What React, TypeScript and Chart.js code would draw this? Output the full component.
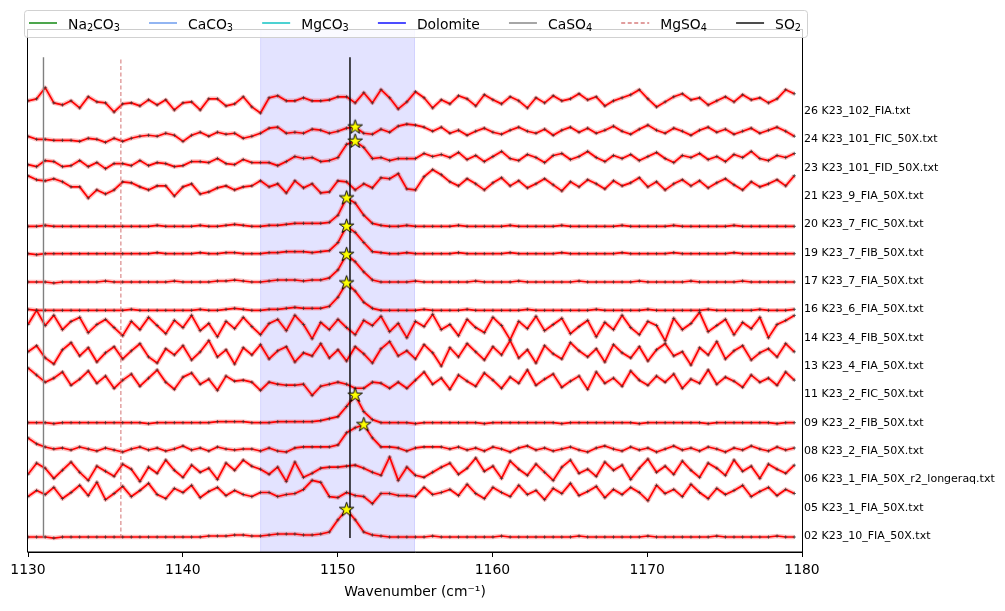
import React, { useEffect, useRef } from 'react';
import { Chart, registerables } from 'chart.js';

Chart.register(...registerables);
Chart.defaults.font.family = '"DejaVu Sans", sans-serif';

// Wavenumber sampling of every spectrum (cm^-1)
const WN_START = 1130;
const WN_STEP = 0.5562;
const POINT_COUNT = 90;
const WAVENUMBERS = Array.from({ length: POINT_COUNT }, (_, i) => +(WN_START + i * WN_STEP).toFixed(3));

// Vertical offset between stacked spectra (intensity units)
const OFFSET_STEP = 28;

// Spectrum names, bottom to top
const SPECTRUM_LABELS = [
  '02 K23_10_FIA_50X.txt',
  '05 K23_1_FIA_50X.txt',
  '06 K23_1_FIA_50X_r2_longeraq.txt',
  '08 K23_2_FIA_50X.txt',
  '09 K23_2_FIB_50X.txt',
  '11 K23_2_FIC_50X.txt',
  '13 K23_4_FIA_50X.txt',
  '14 K23_4_FIB_50X.txt',
  '16 K23_6_FIA_50X.txt',
  '17 K23_7_FIA_50X.txt',
  '19 K23_7_FIB_50X.txt',
  '20 K23_7_FIC_50X.txt',
  '21 K23_9_FIA_50X.txt',
  '23 K23_101_FID_50X.txt',
  '24 K23_101_FIC_50X.txt',
  '26 K23_102_FIA.txt',
];

// Intensities relative to each spectrum's own offset
const s02 = [-1,-1,-1,-2,-1,-1,-1,-1,-1,-1,-1,-1,-1,-1,-1,-1,-1,-1,-1,-1,-1,0,0,0,1,1,0,0,1,2,2,2,1,1,2,4,16,26,16,4,1,0,-1,-1,-1,-1,-1,0,-1,-1,-1,-1,-1,-1,-1,0,-1,-1,-1,-1,-1,-1,-1,-1,0,-1,-1,-1,-1,-1,-1,-1,0,-1,-1,-1,-1,-1,-1,-1,0,-1,-1,-1,-1,-1,-1,0,-1,-1];
const s05 = [11,17,13,20,9,15,22,12,25,8,14,21,11,17,24,13,9,19,15,22,10,16,20,12,17,13,11,15,15,11,13,14,18,27,25,11,10,15,12,11,4,14,14,12,12,11,20,13,15,18,12,23,14,9,20,15,11,22,13,17,8,19,14,24,12,16,21,10,18,13,20,15,7,22,14,18,11,23,15,9,19,13,17,22,11,16,20,12,18,14];
const s06 = [5,16,11,1,9,17,7,-1,13,8,3,15,10,-2,12,6,19,9,2,14,7,11,0,16,9,19,13,10,5,12,-2,17,2,6,11,12,12,13,14,11,7,4,22,-1,12,4,2,7,12,16,5,11,21,8,13,1,18,10,4,15,7,-1,12,19,6,10,3,17,9,14,0,11,20,7,13,5,18,9,2,16,11,4,19,8,13,1,15,10,6,14];
const s08 = [13,7,4,2,3,1,4,2,0,3,1,-1,2,4,1,3,0,2,5,1,3,0,4,2,1,2,2,0,3,0,-1,3,4,4,4,4,6,18,23,26,13,4,4,3,0,3,4,4,4,2,4,1,3,0,4,2,-1,3,5,1,3,0,2,4,1,-1,3,5,2,0,4,1,3,-1,2,5,1,3,0,4,2,-1,3,1,5,2,0,4,1,3];
const s09 = [0,0,0,-1,0,0,0,0,0,0,0,0,0,0,-1,0,0,0,0,0,0,0,1,1,1,1,0,0,0,1,1,1,1,1,2,4,6,16,27,11,3,0,0,0,0,-1,0,0,0,0,0,0,0,-1,0,0,0,0,0,0,0,0,-1,0,0,0,0,0,0,0,0,-1,0,0,0,0,0,0,0,-1,0,0,0,0,0,0,0,-1,0,0];
const s11 = [26,19,12,16,22,9,15,23,11,18,6,14,20,8,16,24,12,5,17,21,10,15,4,18,13,14,12,4,12,10,9,9,10,-1,8,10,12,10,6,6,12,11,6,12,6,14,22,10,16,5,19,13,8,21,14,6,17,11,24,9,15,20,7,13,18,5,22,11,16,8,23,14,9,18,12,20,6,15,11,24,10,17,13,7,19,12,16,9,22,14];
const s13 = [14,20,8,2,16,23,10,18,4,13,19,7,15,22,9,3,17,11,20,6,14,25,9,16,2,18,11,21,7,15,19,4,13,10,22,8,16,5,19,12,3,17,24,10,15,7,21,13,0,18,9,22,14,6,19,11,25,8,16,3,20,12,7,23,15,9,17,4,21,13,8,19,5,16,22,10,14,1,18,11,24,7,15,20,6,13,17,9,22,14];
const s14 = [13,27,12,22,8,16,20,5,13,18,10,2,16,8,20,12,4,17,10,22,7,14,1,16,9,20,11,3,14,18,7,22,13,-1,15,8,18,10,3,17,12,21,6,14,0,16,11,23,8,13,2,18,10,5,20,12,-2,16,9,21,7,13,19,4,11,17,1,15,8,22,10,3,16,12,-3,19,8,14,25,6,12,18,3,15,9,20,0,13,17,22];
const s16 = [0,-1,-1,-1,-1,-1,-1,-1,-1,-1,-1,-1,0,-1,-1,-1,-1,-1,-1,-1,0,-1,-1,0,1,0,-1,-1,0,0,1,2,1,1,1,3,12,26,18,7,1,-1,-1,-1,-1,-1,0,-1,-1,-1,-1,0,-1,-1,-1,-1,-1,-1,0,-1,-1,-1,-1,-1,-1,-1,0,-1,-1,-1,-1,-1,0,-1,-1,-1,-1,-1,-1,0,-1,-1,-1,-1,-1,0,-1,-1,-1,0];
const s17 = [-1,-1,-1,-2,-1,-1,-1,-1,-1,0,-1,-1,-1,-1,-1,-1,-1,0,-1,-1,-1,-1,0,0,1,0,-1,-1,0,1,1,1,0,1,1,3,11,26,19,9,1,-1,-1,-1,-1,0,-1,-1,-1,-1,-1,-1,0,-1,-1,-1,-1,0,-1,-1,-1,-1,-1,-1,0,-1,-1,-1,-1,-1,-1,0,-1,-1,-1,-1,-1,0,-1,-1,-1,-1,-1,0,-1,-1,-1,-1,-1,-1];
const s19 = [-1,-2,-1,-1,-1,-1,-1,-1,-1,-1,-1,-1,-1,-1,-1,0,-1,-1,-1,-1,0,-1,-1,0,0,-1,-1,-1,0,0,1,1,1,0,1,2,10,26,20,10,1,0,-1,-1,0,-1,-1,-1,-1,-1,0,-1,-1,-1,-1,-1,0,-1,-1,-1,-1,-1,0,-1,-1,-1,-1,-1,-1,0,-1,-1,-1,-1,-1,0,-1,-1,-1,-1,-1,-1,0,-1,-1,-1,-1,-1,-1,-1];
const s20 = [-2,-2,-1,-2,-2,-2,-2,-2,-2,-2,-2,-2,-2,-2,-2,-1,-2,-2,-2,-2,-1,-2,-2,-1,0,-1,-2,-2,-1,-1,0,1,1,1,1,2,9,26,21,9,1,-1,-2,-2,-1,-2,-2,-2,-2,-2,-1,-2,-2,-2,-2,-2,-1,-2,-2,-2,-2,-2,-1,-2,-2,-2,-2,-2,-2,-1,-2,-2,-2,-2,-2,-1,-2,-2,-2,-2,-2,-2,-1,-2,-2,-2,-2,-2,-2,-2];
const s21 = [20,16,15,17,14,9,9,-2,6,2,6,14,13,9,6,10,10,0,9,12,2,4,8,10,6,9,10,15,9,12,3,15,8,12,3,4,15,14,6,12,8,18,17,22,7,6,19,26,21,14,10,17,12,6,13,18,10,15,8,12,17,11,5,14,9,16,12,7,15,10,13,18,9,14,6,12,16,10,15,8,13,17,11,6,14,9,12,16,10,20];
const s23 = [3,1,7,6,1,2,7,1,5,-1,4,4,2,7,2,5,4,1,2,6,6,5,9,4,3,8,5,5,5,2,6,11,9,10,6,7,10,23,26,20,9,10,7,9,9,9,14,11,13,10,15,8,12,6,11,16,9,7,13,10,5,12,14,8,11,16,10,6,12,9,13,7,11,15,9,5,12,10,14,8,11,6,13,10,16,9,7,12,10,14];
const s24 = [3,0,0,-1,-1,-1,-2,1,0,-3,1,-2,1,3,4,3,6,4,-2,4,7,3,7,5,6,1,3,6,11,12,6,7,6,10,9,6,8,11,12,6,5,10,7,13,15,14,12,8,12,6,9,4,8,11,7,5,9,12,8,6,10,4,9,12,7,11,6,9,13,8,5,10,14,9,6,11,8,4,9,12,7,10,5,8,11,6,9,12,8,3];
const s26 = [10,12,23,8,6,10,3,14,9,8,-1,7,8,5,11,6,11,1,8,9,1,12,12,5,7,14,4,-2,13,15,10,10,13,10,10,11,14,14,8,18,8,21,13,2,9,19,13,3,11,7,15,12,5,16,11,7,14,10,3,13,8,15,10,12,17,11,14,5,10,13,16,21,12,4,9,14,17,11,13,6,10,14,9,16,11,13,8,12,21,17];

const SPECTRA = [s02, s05, s06, s08, s09, s11, s13, s14, s16, s17, s19, s20, s21, s23, s24, s26];

// Index of the SO2 peak marked with a star (null: no peak found)
const PEAK_INDEX = [37, null, null, 39, 38, null, null, null, 37, 37, 37, 37, null, 38, 38, null];

// Reference band positions (cm^-1)
const REF_NAMES = ['Na₂CO₃', 'CaCO₃', 'MgCO₃', 'Dolomite', 'CaSO₄', 'MgSO₄', 'SO₂'];
const REF_POSITIONS = [1080, 1086, 1094, 1097, 1131, 1136, 1150.8];
const REF_COLORS = ['#008000', '#6495ed', '#00bfbf', '#0000ff', '#808080', 'rgba(205,92,92,0.8)', '#000000'];
const REF_DASHED = [false, false, false, false, false, true, false];
const REF_SPAN = [-2, 473];

// Highlighted SO2 window
const BAND = [1145, 1155];

const X_MIN = 1130;
const X_MAX = 1180;
const X_TICK_STEP = 10;

const SUBSCRIPTS = '₀₁₂₃₄₅₆₇₈₉';

function textRuns(text: string) {
  const runs: { t: string; sub: boolean }[] = [];
  for (const ch of text) {
    const k = SUBSCRIPTS.indexOf(ch);
    const sub = k >= 0;
    const t = sub ? String(k) : ch;
    const last = runs[runs.length - 1];
    if (last && last.sub === sub) last.t += t;
    else runs.push({ t, sub });
  }
  return runs;
}

function fontOf(size: number) {
  return `${size}px "DejaVu Sans", sans-serif`;
}

function richWidth(ctx: CanvasRenderingContext2D, text: string, size: number) {
  let w = 0;
  for (const r of textRuns(text)) {
    ctx.font = fontOf(r.sub ? size * 0.7 : size);
    w += ctx.measureText(r.t).width;
  }
  return w;
}

function drawRich(ctx: CanvasRenderingContext2D, text: string, x: number, baseline: number, size: number) {
  let cx = x;
  ctx.textBaseline = 'alphabetic';
  ctx.textAlign = 'left';
  for (const r of textRuns(text)) {
    const s = r.sub ? size * 0.7 : size;
    ctx.font = fontOf(s);
    ctx.fillText(r.t, cx, r.sub ? baseline + size * 0.2 : baseline);
    cx += ctx.measureText(r.t).width;
  }
}

function makeStar(): HTMLCanvasElement {
  const c = document.createElement('canvas');
  const size = 19;
  c.width = size;
  c.height = size;
  const g = c.getContext('2d')!;
  const cx = size / 2;
  const cy = size / 2;
  const outer = 7.6;
  const inner = outer * 0.382;
  g.beginPath();
  for (let k = 0; k < 10; k++) {
    const a = -Math.PI / 2 + (k * Math.PI) / 5;
    const rad = k % 2 === 0 ? outer : inner;
    g.lineTo(cx + rad * Math.cos(a), cy + rad * Math.sin(a));
  }
  g.closePath();
  g.fillStyle = '#ffff00';
  g.fill();
  g.lineWidth = 1;
  g.strokeStyle = '#000';
  g.lineJoin = 'miter';
  g.stroke();
  return c;
}

const bandPlugin = {
  id: 'so2Band',
  beforeDatasetsDraw(chart: any) {
    const { ctx, chartArea: a, scales } = chart;
    const x0 = scales.x.getPixelForValue(BAND[0]);
    const x1 = scales.x.getPixelForValue(BAND[1]);
    ctx.save();
    ctx.fillStyle = 'rgba(0,0,255,0.11)';
    ctx.fillRect(x0, a.top, x1 - x0, a.bottom - a.top);
    ctx.strokeStyle = 'rgba(0,0,255,0.08)';
    ctx.lineWidth = 1;
    ctx.beginPath();
    ctx.moveTo(x0 + 0.5, a.top);
    ctx.lineTo(x0 + 0.5, a.bottom);
    ctx.moveTo(x1 - 0.5, a.top);
    ctx.lineTo(x1 - 0.5, a.bottom);
    ctx.stroke();
    ctx.restore();
  },
};

const framePlugin = {
  id: 'frameAndNames',
  afterDatasetsDraw(chart: any) {
    const { ctx, chartArea: a, scales } = chart;
    ctx.save();
    ctx.strokeStyle = '#000';
    ctx.lineWidth = 1;
    ctx.strokeRect(Math.round(a.left) - 0.5, Math.round(a.top) + 0.5, Math.round(a.right - a.left) + 1, Math.round(a.bottom - a.top) - 0.5);

    // spectrum names at each offset
    ctx.fillStyle = '#000';
    ctx.font = fontOf(11);
    ctx.textAlign = 'left';
    ctx.textBaseline = 'middle';
    SPECTRUM_LABELS.forEach((name, k) => {
      const y = scales.y.getPixelForValue(k * OFFSET_STEP);
      ctx.fillText(name, a.right + 2, y);
    });

    // wavenumber tick labels, centred under each tick
    ctx.font = fontOf(13.9);
    ctx.textAlign = 'center';
    ctx.textBaseline = 'alphabetic';
    scales.x.ticks.forEach((t: any) => {
      const x = scales.x.getPixelForValue(t.value);
      ctx.fillText(String(t.value), x, a.bottom + 21.5);
    });
    ctx.restore();
  },
};

const legendPlugin = {
  id: 'refLegend',
  afterDraw(chart: any) {
    const { ctx, chartArea: a } = chart;
    const size = 13.9;
    const boxLeft = a.left - 4;
    const boxRight = a.right + 5;
    const boxBottom = a.top + 8;
    const boxTop = boxBottom - 27;
    const midY = (boxTop + boxBottom) / 2;
    ctx.save();
    ctx.beginPath();
    (ctx as any).roundRect(boxLeft + 0.5, boxTop + 0.5, boxRight - boxLeft, boxBottom - boxTop, 3);
    ctx.fillStyle = 'rgba(255,255,255,0.8)';
    ctx.fill();
    ctx.strokeStyle = 'rgba(204,204,204,0.9)';
    ctx.lineWidth = 1;
    ctx.stroke();

    const handle = 28;
    const gapText = 11;
    const widths = REF_NAMES.map((n) => handle + gapText + richWidth(ctx, n, size));
    const startX = boxLeft + 5;
    const endX = boxRight - 6;
    const total = widths.reduce((s, w) => s + w, 0);
    const gap = (endX - startX - total) / (REF_NAMES.length - 1);
    let x = startX;
    REF_NAMES.forEach((name, i) => {
      ctx.beginPath();
      ctx.setLineDash(REF_DASHED[i] ? [4, 2.5] : []);
      ctx.strokeStyle = REF_COLORS[i];
      ctx.lineWidth = 1.4;
      ctx.moveTo(x, midY - 0.5);
      ctx.lineTo(x + handle, midY - 0.5);
      ctx.stroke();
      ctx.setLineDash([]);
      ctx.fillStyle = '#000';
      drawRich(ctx, name, x + handle + gapText, midY + size * 0.36, size);
      x += widths[i] + gap;
    });
    ctx.restore();
  },
};

export default function App() {
  const canvasRef = useRef<HTMLCanvasElement>(null);

  useEffect(() => {
    const star = makeStar();

    const starPoints: { x: number; y: number }[] = [];
    PEAK_INDEX.forEach((idx, k) => {
      if (idx === null) return;
      starPoints.push({ x: WAVENUMBERS[idx], y: k * OFFSET_STEP + SPECTRA[k][idx] });
    });

    const refSets = REF_POSITIONS.map((pos, i) => ({
      label: REF_NAMES[i],
      data: [
        { x: pos, y: REF_SPAN[0] },
        { x: pos, y: REF_SPAN[1] },
      ],
      borderColor: REF_COLORS[i],
      borderWidth: REF_DASHED[i] ? 1.1 : 1.4,
      borderDash: REF_DASHED[i] ? [4, 2.5] : [],
      pointRadius: 0,
    }));

    const traceSets = SPECTRA.map((vals, k) => ({
      label: SPECTRUM_LABELS[k],
      data: vals.map((v, i) => ({ x: WAVENUMBERS[i], y: k * OFFSET_STEP + v })),
      borderColor: '#ff0000',
      borderWidth: 1.7,
      borderJoinStyle: 'round' as const,
      tension: 0,
      pointStyle: 'cross' as const,
      pointRadius: 1.7,
      pointBorderColor: '#333',
      pointBackgroundColor: '#333',
      pointBorderWidth: 0.7,
    }));

    const haloSets = SPECTRA.map((vals, k) => ({
      label: SPECTRUM_LABELS[k] + ' halo',
      data: vals.map((v, i) => ({ x: WAVENUMBERS[i], y: k * OFFSET_STEP + v })),
      borderColor: 'rgba(255,0,0,0.25)',
      borderWidth: 4.5,
      borderJoinStyle: 'round' as const,
      tension: 0,
      pointRadius: 0,
    }));

    const starSet = {
      label: 'SO₂ peak',
      data: starPoints,
      showLine: false,
      pointStyle: star,
      pointRadius: 8,
    };

    const chart = new Chart(canvasRef.current!, {
      type: 'line',
      data: { datasets: [starSet, ...refSets, ...traceSets, ...haloSets] as any },
      options: {
        animation: false,
        responsive: false,
        maintainAspectRatio: false,
        layout: { padding: { left: 28, right: 203, top: 29, bottom: 0 } },
        plugins: { legend: { display: false }, tooltip: { enabled: false } },
        scales: {
          x: {
            type: 'linear',
            min: X_MIN,
            max: X_MAX,
            afterFit: (s: any) => {
              s.height = 59;
            },
            ticks: {
              display: false,
              stepSize: X_TICK_STEP,
              maxRotation: 0,
              autoSkip: false,
            },
            grid: {
              display: true,
              drawOnChartArea: false,
              drawTicks: true,
              tickLength: 5,
              tickColor: '#000',
              tickWidth: 1,
            },
            border: { display: true, color: '#000', width: 1 },
            title: {
              display: true,
              text: 'Wavenumber (cm⁻¹)',
              color: '#000',
              font: { size: 13.9 },
              padding: { top: 0, bottom: 10 },
            },
          },
          y: { type: 'linear', display: false, min: -15.8, max: 501 },
        },
      },
      plugins: [bandPlugin, framePlugin, legendPlugin],
    } as any);

    return () => chart.destroy();
  }, []);

  return (
    <div style={{ position: 'fixed', left: 0, top: 0, width: 1005, height: 611, background: '#fff' }}>
      <canvas ref={canvasRef} width={1005} height={611} style={{ width: 1005, height: 611, display: 'block' }} />
    </div>
  );
}
